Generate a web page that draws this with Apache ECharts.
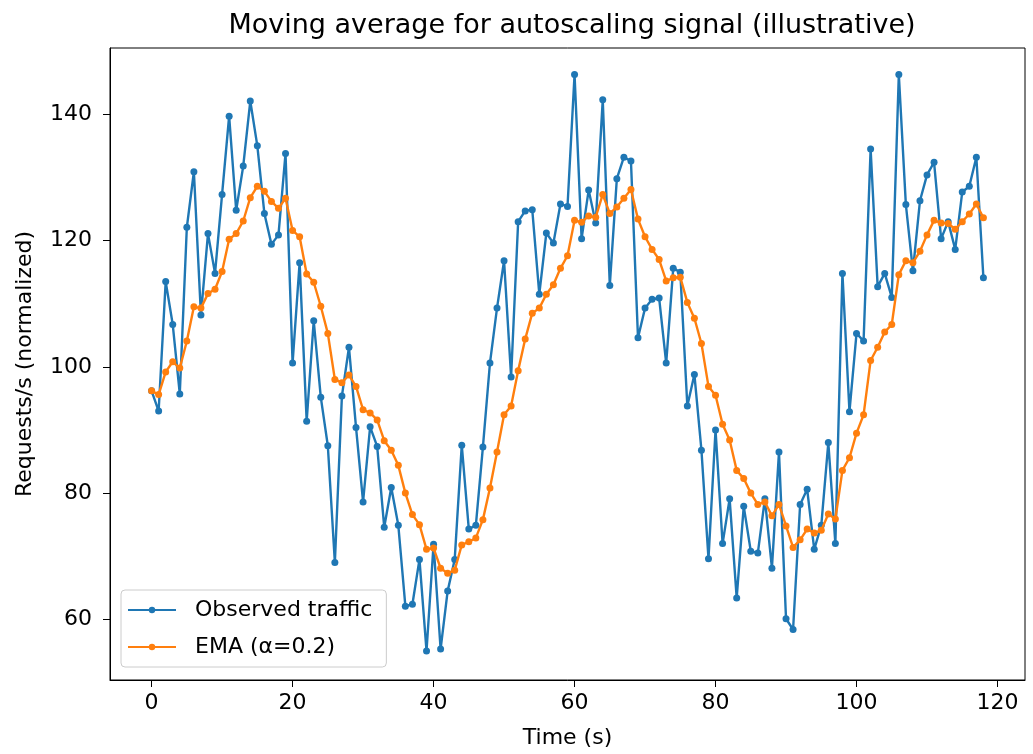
<!DOCTYPE html>
<html>
<head>
<meta charset="utf-8">
<script src="https://cdn.jsdelivr.net/npm/echarts@6/dist/echarts.min.js"></script>
<style>
  html, body { margin: 0; padding: 0; background: #fff; }
  #chart { width: 1033px; height: 754px; }
</style>
</head>
<body>
<div id="chart"></div>
<script>
// observed requests/s, one sample per second (t = 0..118)
const observed = [
  96.2, 93.0, 113.5, 106.7, 95.7, 122.1, 130.9, 108.2, 121.1, 114.8,
  127.3, 139.7, 124.8, 131.8, 142.1, 135.0, 124.3, 119.4, 120.9, 133.8,
  100.6, 116.5, 91.4, 107.3, 95.2, 87.5, 69.0, 95.4, 103.1, 90.4,
  78.6, 90.5, 87.4, 74.6, 80.9, 74.9, 62.1, 62.4, 69.5, 55.0,
  71.9, 55.3, 64.5, 69.5, 87.6, 74.3, 74.9, 87.3, 100.6, 109.3,
  116.8, 98.4, 123.0, 124.7, 124.9, 111.5, 121.2, 119.6, 125.8, 125.4,
  146.3, 120.3, 128.0, 122.8, 142.3, 112.9, 129.8, 133.2, 132.6, 104.6,
  109.3, 110.7, 110.9, 100.6, 115.6, 115.0, 93.8, 98.8, 86.8, 69.6,
  90.0, 72.0, 79.1, 63.4, 77.9, 70.8, 70.5, 79.1, 68.1, 86.5,
  60.1, 58.4, 78.2, 80.6, 71.1, 74.9, 88.0, 72.0, 114.8, 92.9,
  105.3, 104.1, 134.5, 112.7, 114.8, 111.0, 146.3, 125.7, 115.2, 126.3,
  130.4, 132.4, 120.3, 123.0, 118.6, 127.7, 128.6, 133.2, 114.1
];

// EMA curve
const ema = [
  96.2, 95.6, 99.2, 100.8, 99.8, 104.1, 109.5, 109.3, 111.6, 112.3,
  115.1, 120.2, 121.1, 123.1, 126.8, 128.6, 127.8, 126.2, 125.1, 126.7,
  121.6, 120.6, 114.7, 113.4, 109.6, 105.3, 98.0, 97.5, 98.7, 96.9,
  93.2, 92.7, 91.6, 88.3, 86.8, 84.4, 80.0, 76.6, 75.0, 71.1,
  71.3, 68.1, 67.3, 67.8, 71.8, 72.3, 72.9, 75.8, 80.8, 86.5,
  92.4, 93.8, 99.4, 104.4, 108.5, 109.3, 111.5, 113.0, 115.6, 117.6,
  123.2, 122.9, 123.9, 123.7, 127.3, 124.3, 125.3, 126.7, 128.1, 123.4,
  120.6, 118.6, 117.0, 113.6, 114.1, 114.2, 110.2, 107.7, 103.7, 96.9,
  95.5, 90.9, 88.4, 83.6, 82.3, 80.0, 78.2, 78.6, 76.4, 78.2,
  74.8, 71.4, 72.6, 74.3, 73.7, 74.1, 76.7, 75.9, 83.6, 85.6,
  89.5, 92.4, 101.0, 103.1, 105.5, 106.7, 114.6, 116.8, 116.5, 118.3,
  120.9, 123.2, 122.8, 122.7, 121.8, 123.0, 124.2, 125.8, 123.6
];

const xTicks = [0, 20, 40, 60, 80, 100, 120];
const yTicks = [60, 80, 100, 120, 140];

const toPairs = arr => arr.map((v, t) => [t, v]);

const font = 'DejaVu Sans, sans-serif';
const chart = echarts.init(document.getElementById('chart'));

chart.setOption({
  animation: false,
  backgroundColor: '#fff',
  title: {
    text: 'Moving average for autoscaling signal (illustrative)',
    left: 567,
    textAlign: 'center',
    top: 7,
    textStyle: { fontFamily: font, fontSize: 27, fontWeight: 'normal', color: '#000' }
  },
  grid: {
    left: 110, right: 8, top: 48, bottom: 72,
    show: true, borderColor: '#000', borderWidth: 1, backgroundColor: 'transparent'
  },
  legend: {
    orient: 'vertical',
    left: 121, top: 590,
    backgroundColor: '#fff',
    borderColor: '#cccccc', borderWidth: 1, borderRadius: 4,
    padding: [9, 14, 9, 6],
    itemWidth: 48, itemHeight: 8, itemGap: 15,
    textStyle: { fontFamily: font, fontSize: 22, color: '#000', padding: [0, 0, 0, 14] },
    data: ['Observed traffic', 'EMA (α=0.2)']
  },
  xAxis: {
    type: 'value',
    min: -5.9, max: 123.9,
    name: 'Time (s)',
    nameLocation: 'middle',
    nameGap: 47,
    nameTextStyle: { fontFamily: font, fontSize: 22, color: '#000' },
    axisLine: { onZero: false, lineStyle: { color: '#000', width: 1 } },
    axisTick: { show: true, length: 7, customValues: xTicks, lineStyle: { color: '#000' } },
    axisLabel: { customValues: xTicks, fontFamily: font, fontSize: 22, color: '#000', margin: 12 },
    splitLine: { show: false }
  },
  yAxis: {
    type: 'value',
    min: 50.4, max: 150.5,
    name: 'Requests/s (normalized)',
    nameLocation: 'middle',
    nameGap: 74,
    nameRotate: 90,
    nameTextStyle: { fontFamily: font, fontSize: 22, color: '#000' },
    axisLine: { show: true, onZero: false, lineStyle: { color: '#000', width: 1 } },
    axisTick: { show: true, length: 7, customValues: yTicks, lineStyle: { color: '#000' } },
    axisLabel: { customValues: yTicks, fontFamily: font, fontSize: 22, color: '#000', margin: 18 },
    splitLine: { show: false }
  },
  series: [
    {
      name: 'Observed traffic',
      type: 'line',
      data: toPairs(observed),
      color: '#1f77b4',
      symbol: 'circle', symbolSize: 7, showAllSymbol: true,
      lineStyle: { width: 2.4, color: '#1f77b4' },
      itemStyle: { color: '#1f77b4' },
      z: 2
    },
    {
      name: 'EMA (α=0.2)',
      type: 'line',
      data: toPairs(ema),
      color: '#ff7f0e',
      symbol: 'circle', symbolSize: 7, showAllSymbol: true,
      lineStyle: { width: 2.4, color: '#ff7f0e' },
      itemStyle: { color: '#ff7f0e' },
      z: 3
    }
  ]
});
</script>
</body>
</html>
